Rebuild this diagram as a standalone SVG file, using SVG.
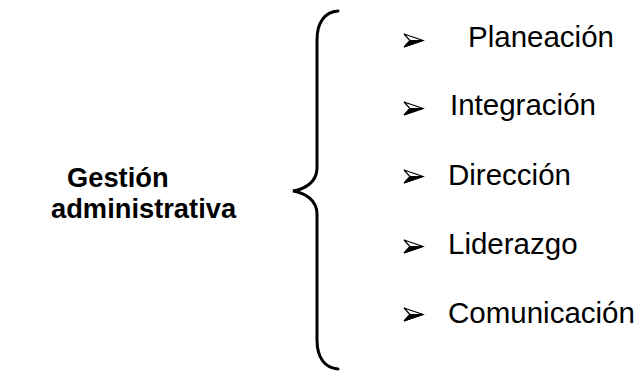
<svg xmlns="http://www.w3.org/2000/svg" width="641" height="371" viewBox="0 0 641 371">
<style>
.t{font-family:"Liberation Sans",Arial,sans-serif;font-size:29.5px;fill:#000}
.b{font-family:"Liberation Sans",Arial,sans-serif;font-size:27.3px;font-weight:bold;fill:#000}
.br{fill:none;stroke:#000;stroke-width:3;stroke-linecap:round}
</style>
<defs>
<g id="bullet">
<polygon points="0,-14 19,-7.5 0,-1 6,-7.5" fill="#fff" stroke="#000" stroke-width="1.2" stroke-linejoin="miter"/>
<polygon points="6,-7.5 19,-7.5 0,-1" fill="#000" stroke="#000" stroke-width="1"/>
</g>
</defs>
<rect width="641" height="371" fill="#fff"/>
<g id="title">
<text class="b" x="67" y="187">Gestión</text>
<text class="b" x="51" y="218">administrativa</text>
</g>
<g id="connectors">
<path class="br" d="M338,11 C325,12 317,22 317,40 L317,168 C317,182 305,189 293,191 C305,193 317,200 317,214 L317,340 C317,358 325,368 338,369"/>
</g>
<g id="item-planeacion">
<use href="#bullet" x="404" y="48"/>
<text class="t" x="468" y="47">Planeación</text>
</g>
<g id="item-integracion">
<use href="#bullet" x="404" y="116"/>
<text class="t" x="450" y="115">Integración</text>
</g>
<g id="item-direccion">
<use href="#bullet" x="404" y="184"/>
<text class="t" x="448" y="185">Dirección</text>
</g>
<g id="item-liderazgo">
<use href="#bullet" x="404" y="254"/>
<text class="t" x="448" y="254">Liderazgo</text>
</g>
<g id="item-comunicacion">
<use href="#bullet" x="404" y="322"/>
<text class="t" x="448" y="323">Comunicación</text>
</g>
</svg>
